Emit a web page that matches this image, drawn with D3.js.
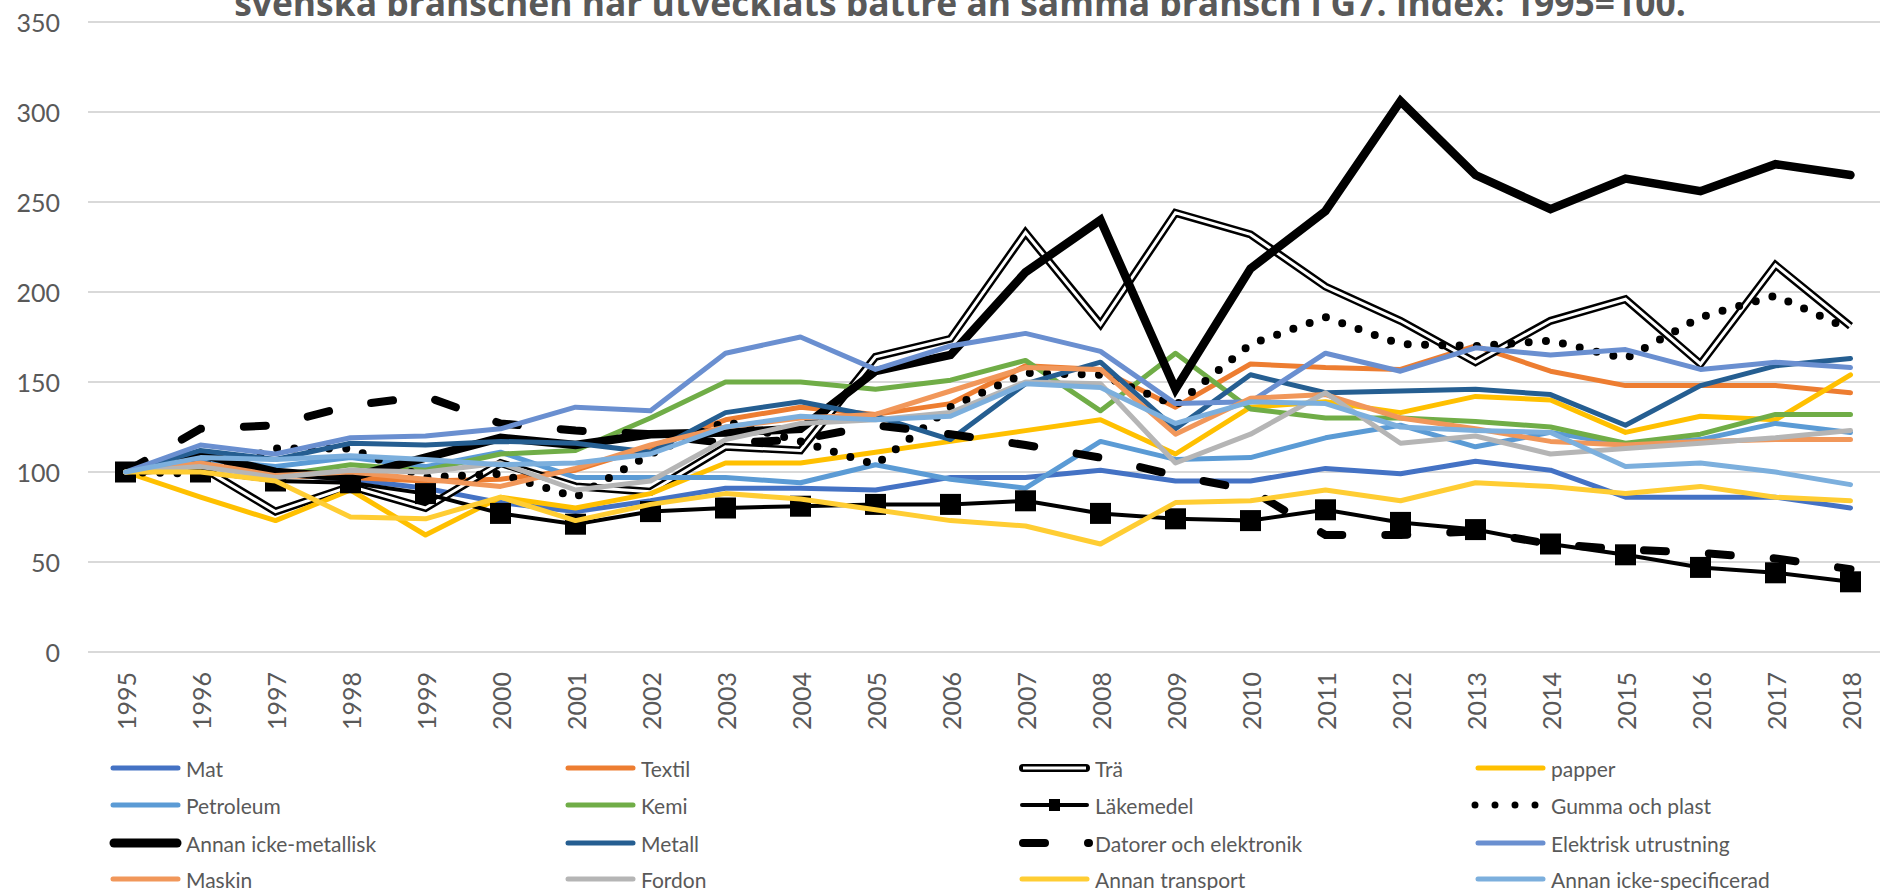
<!DOCTYPE html>
<html>
<head>
<meta charset="utf-8">
<script src="https://cdn.jsdelivr.net/npm/d3@7"></script>
<style>
  body { margin: 0; background: #fff; }
  svg { display: block; font-family: Lato, "Open Sans", sans-serif; }
  .tick-label { fill: #595959; font-size: 25px; }
  .legend-label { fill: #595959; font-size: 21px; }
  .chart-title { fill: #595959; font-family: "Open Sans", sans-serif; font-size: 35.4px; font-weight: bold; }
</style>
</head>
<body>
<div id="chart"></div>
<script>
// data, index 1995 = 100
const years = ["1995","1996","1997","1998","1999","2000","2001","2002","2003","2004","2005","2006",
               "2007","2008","2009","2010","2011","2012","2013","2014","2015","2016","2017","2018"];
const yTicks = [0, 50, 100, 150, 200, 250, 300, 350];

const mat            = [100,104,99,96,91,83,78,84,91,91,90,97,97,101,95,95,102,99,106,101,86,86,86,80];
const textil         = [100,104,98,97,95,96,101,114,129,136,132,138,159,157,136,160,158,157,170,156,148,148,148,144];
const tra            = [100,103,78,92,80,105,92,89,114,112,164,174,233,182,244,232,203,184,161,184,196,160,215,181];
const papper         = [100,86,73,90,65,86,80,88,105,105,111,117,123,129,110,136,139,133,142,140,122,131,129,154];
const petroleum      = [100,107,103,108,103,111,97,97,97,94,104,96,91,117,107,108,119,126,114,122,115,118,127,122];
const kemi           = [100,104,98,104,101,110,112,130,150,150,146,151,162,134,166,135,130,130,128,125,116,121,132,132];
const lakemedel      = [100,100,95,94,88,77,71,78,80,81,82,82,84,77,74,73,79,72,68,60,54,47,44,39];
const gumma          = [100,99,113,113,97,99,86,110,128,117,104,136,155,154,137,171,186,171,170,173,163,186,198,179];
const annanIckeMet   = [100,110,100,97,108,119,115,121,122,124,156,165,211,240,146,213,245,306,265,246,263,256,271,265];
const metall         = [100,112,107,116,115,117,116,111,133,139,131,118,149,161,124,154,144,145,146,143,126,148,159,163];
const datorer        = [100,124,126,137,142,127,123,121,116,118,126,121,115,108,98,90,65,65,67,60,57,55,52,46];
const elektrisk      = [100,115,110,119,120,124,136,134,166,175,157,170,177,167,138,139,166,156,169,165,168,157,161,158];
const maskin         = [100,105,98,100,96,92,102,115,125,130,132,145,158,157,121,141,143,130,124,117,115,117,118,118];
const fordon         = [100,103,97,101,100,105,90,95,118,127,129,133,150,149,105,121,144,116,120,110,113,116,119,123];
const annanTransport = [100,100,95,75,74,86,73,82,88,85,79,73,70,60,83,84,90,84,94,92,88,92,86,84];
const annanIckeSpec  = [100,108,107,109,107,104,105,110,125,131,129,131,149,147,127,139,138,125,123,122,103,105,100,93];

const seriesNames = ["Mat","Textil","Trä","papper","Petroleum","Kemi","Läkemedel","Gumma och plast",
  "Annan icke-metallisk","Metall","Datorer och elektronik","Elektrisk utrustning",
  "Maskin","Fordon","Annan transport","Annan icke-specificerad"];
const seriesValues = [mat, textil, tra, papper, petroleum, kemi, lakemedel, gumma,
  annanIckeMet, metall, datorer, elektrisk, maskin, fordon, annanTransport, annanIckeSpec];

const title = "svenska branschen har utvecklats bättre än samma bransch i G7. Index: 1995=100.";

// line styles, one per series (same order)
const styles = [
  { type: "plain",  color: "#4472C4" },
  { type: "plain",  color: "#ED7D31" },
  { type: "double" },
  { type: "plain",  color: "#FFC000" },
  { type: "plain",  color: "#5B9BD5" },
  { type: "plain",  color: "#70AD47" },
  { type: "marker" },
  { type: "dots" },
  { type: "thick" },
  { type: "plain",  color: "#255E91" },
  { type: "dash" },
  { type: "plain",  color: "#6A8FD0" },
  { type: "plain",  color: "#F1975A" },
  { type: "plain",  color: "#B5B5B5" },
  { type: "plain",  color: "#FFCD33" },
  { type: "plain",  color: "#7CAFDD" }
];

const width = 1880;
const height = 890;
const plot = { left: 88, right: 1888, top: 22, bottom: 652 };

const svg = d3.select("#chart")
  .append("svg")
    .attr("width", width)
    .attr("height", height)
    .attr("viewBox", `0 0 ${width} ${height}`);

/*    scales    */
const xScale = d3.scalePoint()
  .domain(years)
  .range([plot.left, plot.right])
  .padding(0.5);

const yScale = d3.scaleLinear()
  .domain([0, 350])
  .range([plot.bottom, plot.top]);

/*    gridlines + y labels    */
svg.append("g")
  .selectAll("line")
  .data(yTicks)
  .join("line")
    .attr("x1", plot.left)
    .attr("x2", plot.right)
    .attr("y1", d => yScale(d))
    .attr("y2", d => yScale(d))
    .attr("stroke", "#D9D9D9")
    .attr("stroke-width", 2);

svg.append("g")
  .selectAll("text")
  .data(yTicks)
  .join("text")
    .attr("class", "tick-label")
    .attr("x", 60)
    .attr("y", d => yScale(d))
    .attr("text-anchor", "end")
    .attr("dominant-baseline", "central")
    .text(d => d);

// x labels, rotated
svg.append("g")
  .selectAll("text")
  .data(years)
  .join("text")
    .attr("class", "tick-label")
    .attr("text-anchor", "end")
    .attr("dominant-baseline", "central")
    .attr("transform", d => `translate(${xScale(d)}, 672) rotate(-90)`)
    .text(d => d);

/*    the lines    */
const lineGen = d3.line()
  .x((d, i) => xScale(years[i]))
  .y(d => yScale(d));

const linesG = svg.append("g");

seriesValues.forEach((values, i) => {
  const st = styles[i];
  const g = linesG.append("g");
  const p = () => g.append("path")
    .attr("d", lineGen(values))
    .attr("fill", "none");

  if (st.type === "plain") {
    p().attr("stroke", st.color).attr("stroke-width", 5)
      .attr("stroke-linejoin", "round").attr("stroke-linecap", "round");
  } else if (st.type === "double") {
    p().attr("stroke", "#000").attr("stroke-width", 8);
    p().attr("stroke", "#fff").attr("stroke-width", 3);
  } else if (st.type === "thick") {
    p().attr("stroke", "#000").attr("stroke-width", 8.5)
      .attr("stroke-linecap", "round");
  } else if (st.type === "dots") {
    p().attr("stroke", "#000").attr("stroke-width", 8)
      .attr("stroke-linecap", "round").attr("stroke-dasharray", "0 17.3");
  } else if (st.type === "dash") {
    p().attr("stroke", "#000").attr("stroke-width", 8)
      .attr("stroke-linecap", "round").attr("stroke-dasharray", "22 43");
  } else if (st.type === "marker") {
    p().attr("stroke", "#000").attr("stroke-width", 4);
    g.selectAll("rect")
      .data(values)
      .join("rect")
        .attr("x", (d, j) => xScale(years[j]) - 10.5)
        .attr("y", d => yScale(d) - 10.5)
        .attr("width", 21)
        .attr("height", 21)
        .attr("fill", "#000");
  }
});

/*    title (its first line lies above the picture, as in the original)    */
svg.append("text")
  .attr("class", "chart-title")
  .attr("x", 960)
  .attr("y", 16)
  .attr("text-anchor", "middle")
  .text(title);

/*    legend: 4 columns    */
const legend = svg.append("g");
const colX = [110, 565, 1019, 1475];
const rowY = [768, 805, 843, 879];

seriesNames.forEach((name, i) => {
  const st = styles[i];
  const x0 = colX[i % 4];
  const y0 = rowY[Math.floor(i / 4)];
  const item = legend.append("g").attr("transform", `translate(${x0}, ${y0})`);
  const seg = (a, b) => item.append("line")
    .attr("x1", a).attr("x2", b).attr("y1", 0).attr("y2", 0);

  if (st.type === "plain") {
    seg(3, 68).attr("stroke", st.color).attr("stroke-width", 5).attr("stroke-linecap", "round");
  } else if (st.type === "double") {
    seg(4, 67).attr("stroke", "#000").attr("stroke-width", 8).attr("stroke-linecap", "round");
    seg(4, 67).attr("stroke", "#fff").attr("stroke-width", 3);
  } else if (st.type === "thick") {
    seg(4, 67).attr("stroke", "#000").attr("stroke-width", 9).attr("stroke-linecap", "round");
  } else if (st.type === "dots") {
    seg(0, 61).attr("stroke", "#000").attr("stroke-width", 7)
      .attr("stroke-linecap", "round").attr("stroke-dasharray", "0 20");
  } else if (st.type === "dash") {
    seg(4, 70).attr("stroke", "#000").attr("stroke-width", 8)
      .attr("stroke-linecap", "round").attr("stroke-dasharray", "22 43");
  } else if (st.type === "marker") {
    seg(3, 68).attr("stroke", "#000").attr("stroke-width", 4).attr("stroke-linecap", "round");
    item.append("rect").attr("x", 30).attr("y", -6).attr("width", 11).attr("height", 12).attr("fill", "#000");
  }

  item.append("text")
    .attr("class", "legend-label")
    .attr("x", 76)
    .attr("y", 0)
    .attr("dominant-baseline", "central")
    .text(name);
});
</script>
</body>
</html>
